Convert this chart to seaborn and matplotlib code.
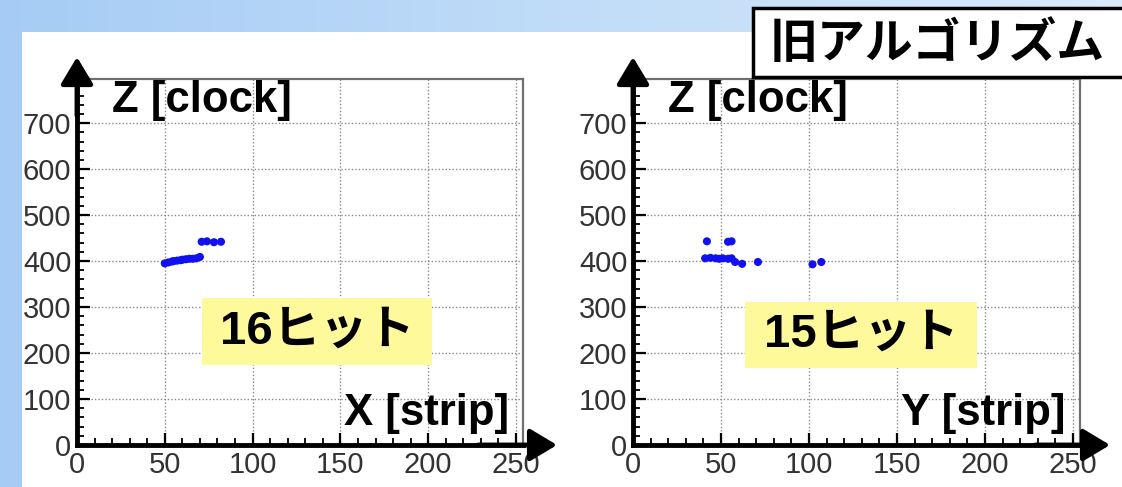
import numpy as np
import pandas as pd
import matplotlib
matplotlib.use("Agg")
import matplotlib.pyplot as plt
import seaborn as sns
from matplotlib.patches import Rectangle
from matplotlib.colors import LinearSegmentedColormap
from matplotlib.ticker import MultipleLocator

# hit positions
x_strip = [50, 52, 54, 55, 57, 59, 60, 62, 64, 66, 68, 70, 71, 74, 78, 82]
x_clock = [395, 397, 399, 400, 401, 402, 403, 404, 405, 405, 406, 409, 442, 443, 441, 442]

y_strip = [41, 44, 47, 49, 51, 54, 56, 58, 62, 71, 102, 107, 42, 54, 56]
y_clock = [406, 407, 406, 405, 406, 405, 406, 398, 394, 398, 393, 398, 443, 442, 443]

x_ticks = [0, 50, 100, 150, 200, 250]
z_ticks = [0, 100, 200, 300, 400, 500, 600, 700]

panels = [
    ("X [strip]", "16ヒット", pd.DataFrame({"strip": x_strip, "clock": x_clock})),
    ("Y [strip]", "15ヒット", pd.DataFrame({"strip": y_strip, "clock": y_clock})),
]

sns.set_style("white")
plt.rcParams["font.family"] = ["Liberation Sans", "Noto Sans CJK JP", "DejaVu Sans"]

W, H = 1122, 487
fig = plt.figure(figsize=(W / 100, H / 100), dpi=100)


def fx(px):
    return px / W


def fy(py):
    return 1 - py / H


# slide background: blue gradient with a white content panel
bg = fig.add_axes([0, 0, 1, 1], zorder=-10)
cmap = LinearSegmentedColormap.from_list("slide", ["#a6ccf5", "#c0dcf8", "#d8eafb"])
bg.imshow(np.linspace(0, 1, 256)[None, :], cmap=cmap, extent=[0, 1, 0, 1], aspect="auto")
bg.add_patch(Rectangle((fx(22), 0), 1, fy(32), facecolor="white", edgecolor="none"))
bg.set_xlim(0, 1)
bg.set_ylim(0, 1)
bg.axis("off")

lefts = [77, 633]
widths = [446, 447]
arrow_tips = [557, 1110]
top_px, bottom_px = 79, 445
boxes = [(202, 298, 432, 365), (745, 302, 977, 368)]

arrow = dict(arrowstyle="-|>,head_length=0.55,head_width=0.33", lw=3.5,
             color="black", mutation_scale=30, shrinkA=0, shrinkB=0)

for (xlabel, hits, df), left, width, tip, box in zip(panels, lefts, widths, arrow_tips, boxes):
    ax = fig.add_axes([fx(left), fy(bottom_px), width / W, (bottom_px - top_px) / H])
    sns.scatterplot(data=df, x="strip", y="clock", ax=ax, color="#1010f0",
                    s=34, edgecolor="none", zorder=3)
    ax.set_xlim(0, 254)
    ax.set_ylim(0, 796)
    ax.set_xticks(x_ticks)
    ax.set_yticks(z_ticks)
    ax.xaxis.set_minor_locator(MultipleLocator(10))
    ax.yaxis.set_minor_locator(MultipleLocator(20))
    ax.set_xlabel("")
    ax.set_ylabel("")
    ax.grid(True, which="major", linestyle=(0, (1, 1.5)), color="#8a8a8a", linewidth=1)
    ax.tick_params(which="both", bottom=True, left=True, direction="in", color="black")
    ax.tick_params(which="major", length=9, width=1.6,
                   labelsize=21, labelcolor="#333333", pad=4)
    ax.tick_params(which="minor", length=5, width=1.3)
    for side in ["top", "right"]:
        ax.spines[side].set_color("#707070")
        ax.spines[side].set_linewidth(1.6)
    for side in ["left", "bottom"]:
        ax.spines[side].set_color("black")
        ax.spines[side].set_linewidth(3.5)
        ax.spines[side].set_zorder(4)

    ax.annotate("", xy=(0, 1.06), xytext=(0, 0.9), xycoords="axes fraction",
                arrowprops=arrow, annotation_clip=False)
    ax.annotate("", xy=((tip - left) / width, 0), xytext=(0.9, 0), xycoords="axes fraction",
                arrowprops=arrow, annotation_clip=False)

    ax.text(20, 750, "Z [clock]", fontsize=31.5, fontweight="bold", ha="left", va="center",
            color="black", zorder=5)
    ax.text(246, 44, xlabel, fontsize=31.5, fontweight="bold", ha="right", va="baseline",
            color="black", zorder=5)

    x0, y0, x1, y1 = box
    fig.add_artist(Rectangle((fx(x0), fy(y1)), (x1 - x0) / W, (y1 - y0) / H,
                             transform=fig.transFigure, facecolor="#fefa9c",
                             edgecolor="none", zorder=5))
    fig.text(fx((x0 + x1) / 2), fy((y0 + y1) / 2), hits, fontsize=34, fontweight="bold",
             ha="center", va="center", color="black", zorder=6,
             family=["Liberation Sans", "Noto Sans CJK JP"])

# title box top right
fig.add_artist(Rectangle((fx(753), fy(77)), (1130 - 753) / W, (77 - 8) / H,
                         transform=fig.transFigure, facecolor="white",
                         edgecolor="black", linewidth=2.5, zorder=5))
fig.text(fx(937), fy(44), "旧アルゴリズム", fontsize=34.5, fontweight="bold",
         ha="center", va="center", color="black", zorder=6,
         family=["Noto Sans CJK JP"])

fig.savefig("out.png", dpi=100)
